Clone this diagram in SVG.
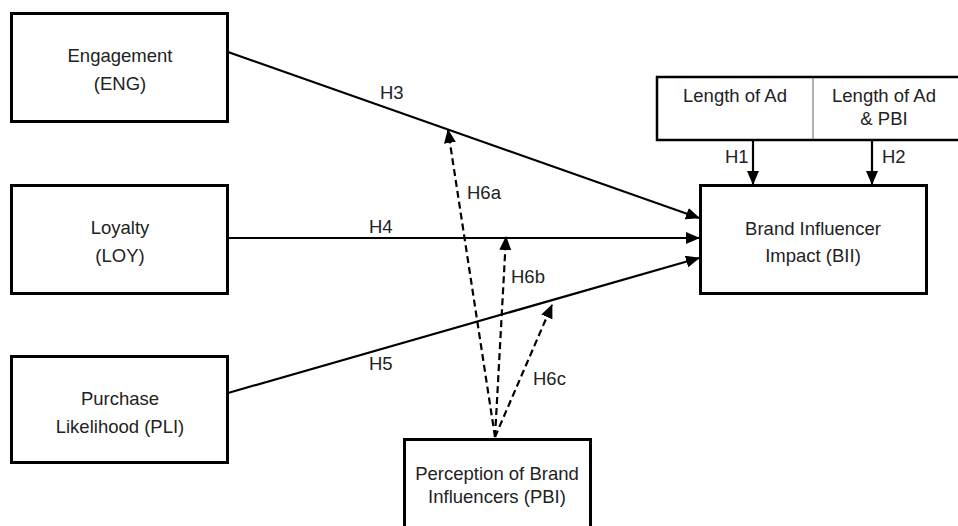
<svg xmlns="http://www.w3.org/2000/svg" width="958" height="526" viewBox="0 0 958 526">
<defs>
<marker id="ah" markerUnits="userSpaceOnUse" markerWidth="14" markerHeight="12" refX="13" refY="6" orient="auto">
<path d="M0,0 L14,6 L0,12 Z" fill="#000"/>
</marker>
<style>
.box{fill:#fff;stroke:#000;stroke-width:3}
.t{font-family:"Liberation Sans",Arial,sans-serif;font-size:18.5px;fill:#222;text-anchor:middle}
.l{font-family:"Liberation Sans",Arial,sans-serif;font-size:18.5px;fill:#222}
.c{stroke:#000;stroke-width:2.2;fill:none;marker-end:url(#ah)}
.d{stroke:#000;stroke-width:2.2;fill:none;stroke-dasharray:7,4;marker-end:url(#ah)}
</style>
</defs>
<rect width="958" height="526" fill="#fff"/>
<g id="connectors">
<line class="c" x1="228" y1="52" x2="699" y2="218"/>
<line class="c" x1="228" y1="238" x2="699" y2="238"/>
<line class="c" x1="228" y1="393" x2="699" y2="258"/>
<line class="c" x1="753" y1="140" x2="753" y2="184"/>
<line class="c" x1="872" y1="140" x2="872" y2="184"/>
<line class="d" x1="495" y1="437" x2="448" y2="130"/>
<line class="d" x1="495" y1="437" x2="506" y2="237"/>
<line class="d" x1="495" y1="437" x2="552" y2="305"/>
<text class="l" x="380" y="99">H3</text>
<text class="l" x="369" y="233">H4</text>
<text class="l" x="369" y="370">H5</text>
<text class="l" x="725" y="163">H1</text>
<text class="l" x="882" y="163">H2</text>
<text class="l" x="467" y="199">H6a</text>
<text class="l" x="511" y="283">H6b</text>
<text class="l" x="533" y="385">H6c</text>
</g>
<g id="ENG">
<rect class="box" x="11.5" y="13.5" width="216" height="108"/>
<text class="t" x="120" y="62">Engagement</text>
<text class="t" x="120" y="90">(ENG)</text>
</g>
<g id="LOY">
<rect class="box" x="11.5" y="185.5" width="216" height="108"/>
<text class="t" x="120" y="234">Loyalty</text>
<text class="t" x="120" y="262">(LOY)</text>
</g>
<g id="PLI">
<rect class="box" x="11.5" y="356.5" width="216" height="106"/>
<text class="t" x="120" y="405">Purchase</text>
<text class="t" x="120" y="433">Likelihood (PLI)</text>
</g>
<g id="LEN">
<rect x="657" y="77" width="310" height="63" fill="#fff" stroke="#000" stroke-width="2.5"/>
<line x1="813" y1="78" x2="813" y2="139" stroke="#666" stroke-width="1"/>
<text class="t" x="735" y="102">Length of Ad</text>
<text class="t" x="884" y="102">Length of Ad</text>
<text class="t" x="884" y="125">&amp; PBI</text>
</g>
<g id="BII">
<rect class="box" x="700.5" y="185.5" width="226" height="108"/>
<text class="t" x="813" y="235">Brand Influencer</text>
<text class="t" x="813" y="262">Impact (BII)</text>
</g>
<g id="PBI">
<rect class="box" x="404.5" y="439.5" width="186" height="90"/>
<text class="t" x="497" y="480">Perception of Brand</text>
<text class="t" x="497" y="503">Influencers (PBI)</text>
</g>
</svg>
